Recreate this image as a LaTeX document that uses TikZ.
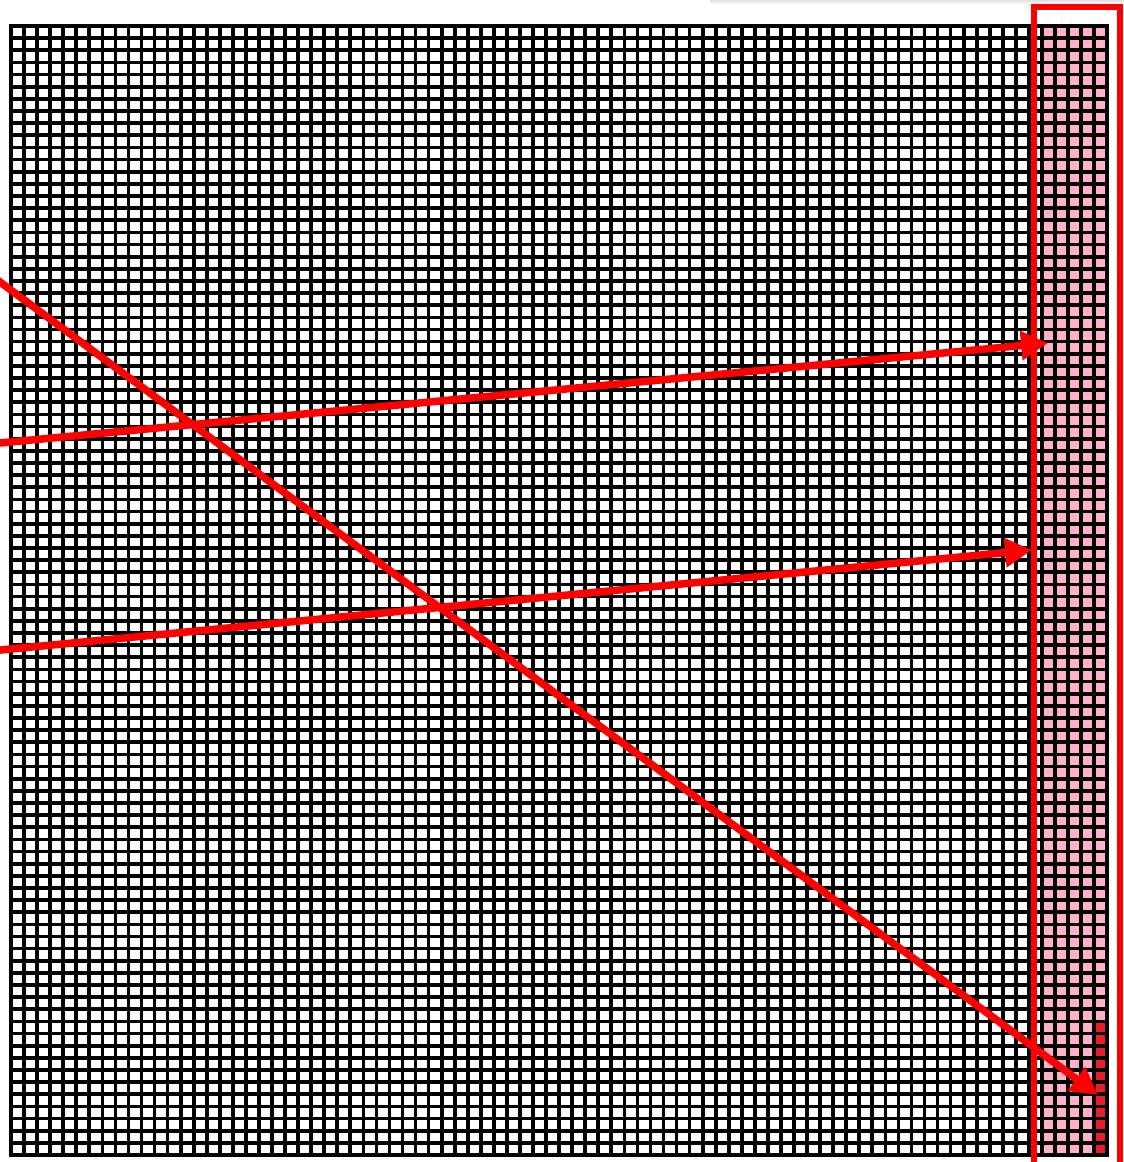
\documentclass[tikz,border=0pt]{standalone}
\usetikzlibrary{arrows.meta}
\definecolor{cellpink}{RGB}{255,176,202}
\definecolor{celldark}{RGB}{234,30,42}
\definecolor{linered}{RGB}{255,0,0}
\tikzset{
  gridline/.style={black, line width=3.7pt},
  redarrow/.style={linered, line width=7.5pt, -{Triangle[length=27pt,width=28pt]}},
  redframe/.style={draw=linered, line width=6pt}
}
\begin{document}
\begin{tikzpicture}[x=1pt,y=-1pt]
\useasboundingbox (0,0) rectangle (1124,1162);
\clip (0,0) rectangle (1124,1162);
\fill[white] (0,0) rectangle (1124,1162);
% faint shadow bar at top
\shade[top color=black!12, bottom color=white] (710,0) rectangle (1124,4);
\pgfmathsetmacro{\xa}{11}
\pgfmathsetmacro{\ya}{26}
\pgfmathsetmacro{\dx}{13.05}
\pgfmathsetmacro{\dy}{12.1398}
% pink columns (last five)
\fill[cellpink] ({\xa+79*\dx},\ya) rectangle ({\xa+84*\dx},{\ya+93*\dy});
% dark red cells in the last column
\fill[celldark] ({\xa+83*\dx},{\ya+82*\dy}) rectangle ({\xa+84*\dx},{\ya+93*\dy});
% grid lines
\foreach \i in {0,...,84}{
  \draw[gridline] ({\xa+\i*\dx},{\ya-1.85}) -- ({\xa+\i*\dx},{\ya+93*\dy+1.85});
}
\foreach \j in {0,...,93}{
  \draw[gridline] ({\xa-1.85},{\ya+\j*\dy}) -- ({\xa+84*\dx+1.85},{\ya+\j*\dy});
}
% red frame round the last columns
\draw[redframe] (1033.7,7.2) rectangle (1119.7,1180);
% arrows
\coordinate (a1s) at (-20,267.2);
\coordinate (a1e) at (1098,1095);
\coordinate (a2s) at (-20,444.9);
\coordinate (a2e) at (1048,343);
\coordinate (a3s) at (-20,652);
\coordinate (a3e) at (1032,550);
\draw[redarrow] (a1s) -- (a1e);
\draw[redarrow] (a2s) -- (a2e);
\draw[redarrow] (a3s) -- (a3e);
\end{tikzpicture}
\end{document}
